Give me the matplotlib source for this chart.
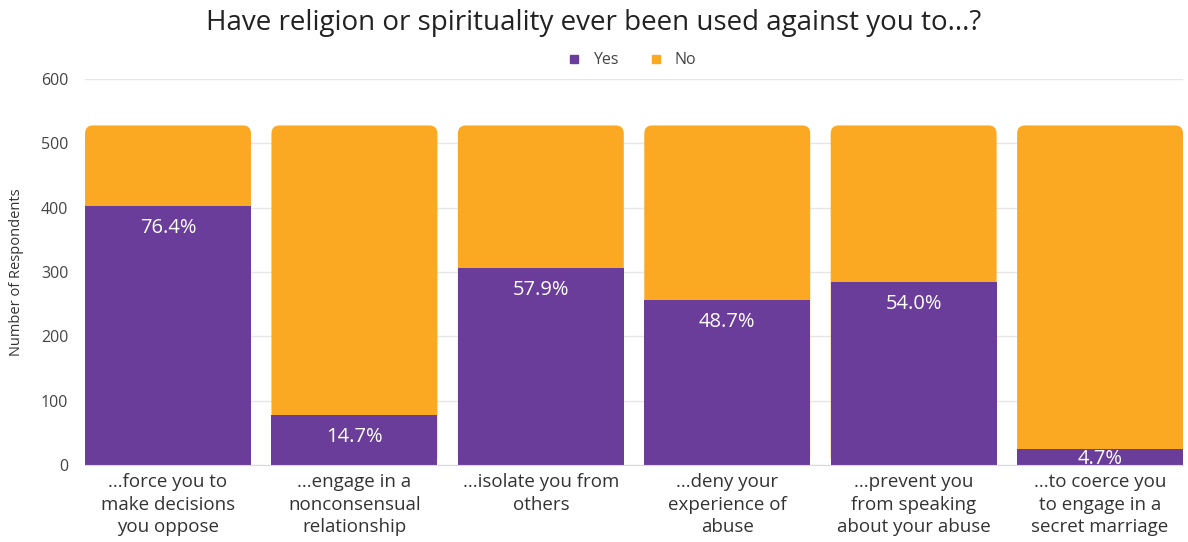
import matplotlib.pyplot as plt
from matplotlib.patches import FancyBboxPatch, Rectangle
from matplotlib.lines import Line2D
import numpy as np

categories = ['...force you to\nmake decisions\nyou oppose',
              '...engage in a\nnonconsensual\nrelationship',
              '...isolate you from\nothers',
              '...deny your\nexperience of\nabuse',
              '...prevent you\nfrom speaking\nabout your abuse',
              '...to coerce you\nto engage in a\nsecret marriage']
yes = [403, 78, 306, 257, 285, 25]
total = [528, 528, 528, 528, 528, 528]
pct_labels = ['76.4%', '14.7%', '57.9%', '48.7%', '54.0%', '4.7%']
yticks = [0, 100, 200, 300, 400, 500, 600]

purple = '#6a3d9a'
orange = '#fba823'

plt.rcParams['font.family'] = ['Open Sans', 'DejaVu Sans']

fig = plt.figure(figsize=(11.88, 5.42), dpi=100)
ax = fig.add_axes([0.0716, 0.142, 0.9242, 0.712])

x = np.arange(len(categories))
w = 0.89
ax.set_xlim(-0.445, len(categories) - 1 + 0.445)
ax.set_ylim(0, 600)

# aspect between y and x data units, so the rounded corners look round
bbox = ax.get_window_extent()
ypp = 600 / bbox.height
xpp = (len(categories) - 1 + 0.89) / bbox.width
asp = ypp / xpp
r = 8 * xpp

for i in range(len(categories)):
    box = FancyBboxPatch((x[i] - w / 2, 0), w, total[i],
                         boxstyle='round,pad=0,rounding_size=%f' % r,
                         mutation_aspect=asp, facecolor=orange,
                         edgecolor='none', zorder=2)
    ax.add_patch(box)
    ax.add_patch(Rectangle((x[i] - w / 2, 0), w, yes[i], facecolor=purple,
                           edgecolor='none', zorder=3))
    ty = max(yes[i] - 34, 0.4 * yes[i])
    ax.text(x[i], ty, pct_labels[i], color='white', ha='center', va='center',
            fontsize=14.5, fontweight='medium', zorder=4)

ax.set_yticks(yticks)
ax.set_xticks(x)
ax.set_xticklabels(categories, fontsize=13.5, color='#333333', linespacing=1.3)
ax.tick_params(axis='y', labelsize=11.5, colors='#444444', length=0, pad=12)
ax.tick_params(axis='x', length=0, pad=6)
ax.grid(axis='y', color='#e6e6e6', linewidth=1, zorder=0)
ax.set_axisbelow(True)
for s in ['top', 'right', 'left']:
    ax.spines[s].set_visible(False)
ax.spines['bottom'].set_color('#d9d9d9')
ax.spines['bottom'].set_zorder(5)

ax.set_ylabel('Number of Respondents', fontsize=10.5, color='#333333', labelpad=12)

fig.text(0.5, 0.958, 'Have religion or spirituality ever been used against you to...?',
         ha='center', va='center', fontsize=20, color='#222222')

handles = [Line2D([], [], marker='s', linestyle='none', color=purple, markersize=6),
           Line2D([], [], marker='s', linestyle='none', color=orange, markersize=6)]
fig.legend(handles, ['Yes', 'No'], loc='center', bbox_to_anchor=(0.528, 0.889),
           ncol=2, frameon=False, fontsize=11.5, handletextpad=0.2,
           columnspacing=1.3, labelcolor='#444444')

fig.savefig('out.png', dpi=100)
